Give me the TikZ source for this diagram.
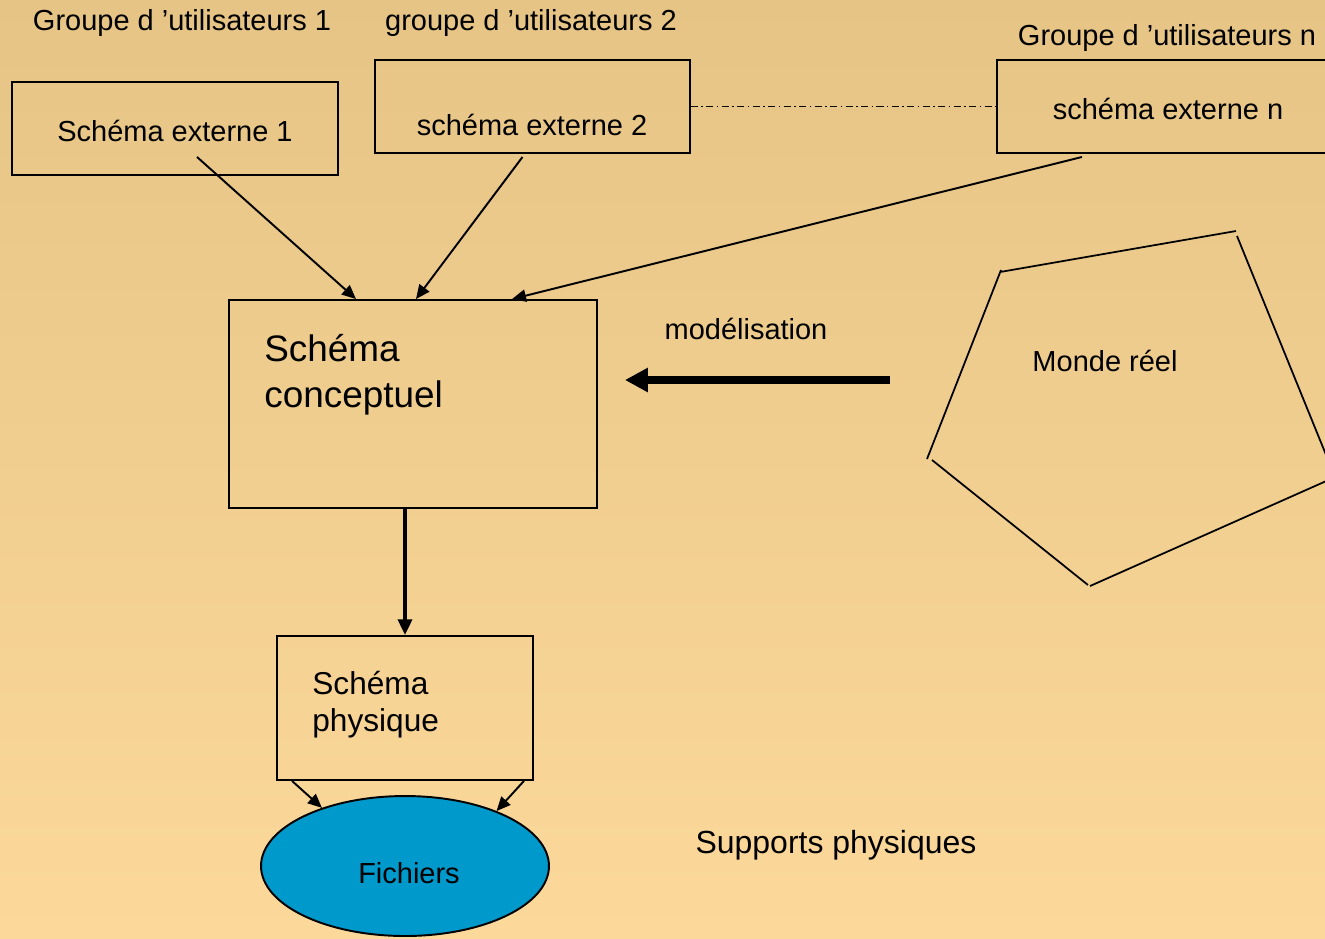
\documentclass[tikz,border=0pt]{standalone}
\usepackage{fontspec}
\setmainfont{Liberation Sans}
\usepackage{tikz}
\usetikzlibrary{arrows.meta,positioning,calc,shapes.geometric}
\definecolor{fondhaut}{RGB}{229,196,134}
\definecolor{fondbas}{RGB}{252,217,155}
\definecolor{fichierbleu}{RGB}{0,153,204}
\tikzset{
  schemabox/.style={draw,line width=1.1pt,inner sep=0pt},
  txt/.style={font=\fontsize{16.5}{20}\selectfont,inner sep=0pt},
  fleche/.style={-{Triangle[length=8pt,width=7pt]},line width=1.1pt},
}

\begin{document}
\begin{tikzpicture}[x=0.02cm,y=-0.02cm]
\shade[top color=fondhaut,bottom color=fondbas] (0,0) rectangle (1325,938);
\useasboundingbox (0,0) rectangle (1325,938);
% schemas externes
\node[schemabox,minimum width=6.52cm,minimum height=1.86cm] (ext1) at (175,128.5) {};
\node[schemabox,minimum width=6.3cm,minimum height=1.86cm] (ext2) at (532.5,106.5) {};
\node[schemabox,minimum width=6.96cm,minimum height=1.86cm] (extn) at (1171,106.5) {};
\node[txt] (ext1txt) at (175,131) {Schéma externe 1};
\node[txt] (ext2txt) at (532,125) {schéma externe 2};
\node[txt] (extntxt) at (1168,109) {schéma externe n};
\node[txt] (grp1) at (182,23) {Groupe d 'utilisateurs 1};
\node[txt] (grp2) at (531,23) {groupe d 'utilisateurs 2};
\node[txt] (grpn) at (1167,38) {Groupe d 'utilisateurs n};
\draw[line width=0.9pt,dash pattern=on 4pt off 2pt on 0.8pt off 2pt] (ext2.east) -- (extn.west);
% schema conceptuel
\node[schemabox,minimum width=7.36cm,minimum height=4.16cm] (concept) at (413,404) {};
\node[anchor=north west,align=left,inner sep=0pt,font=\fontsize{21}{26}\selectfont] (concepttxt) at (264,334) {Schéma\\conceptuel};
\draw[fleche] ($(ext1.south)+(22,-19)$) -- ($(concept.north)+(-57,0)$);
\draw[fleche] ($(ext2.south)+(-10,3)$) -- ($(concept.north)+(3,0)$);
\draw[fleche] ($(extn.south)+(-89,3)$) -- ($(concept.north)+(99,0)$);
% monde reel
\draw[line width=1pt] (1000,272) -- (1236,231) (1237,236) -- (1333,472)
  (1333,478) -- (1090,586) (1088,585) -- (932,460) (927,459) -- (1001,270);
\node[txt] (monde) at (1105,361) {Monde réel};
\node[txt] (modl) at (746,329) {modélisation};
\coordinate (mondebout) at (890,380);
\draw[line width=4pt,-{Triangle[length=13pt,width=13pt]}] (mondebout) -- ($(concept.east)+(27,-24)$);
% schema physique
\node[schemabox,minimum width=5.12cm,minimum height=2.88cm] (phys) at (405,708) {};
\node[anchor=north west,align=left,inner sep=0pt,font=\fontsize{18}{21}\selectfont] (phystxt) at (312,671) {Schéma\\physique};
\draw[line width=2pt,-{Triangle[length=9pt,width=8pt]}] (concept.south -| phys.north) -- (phys.north);
\node[draw,ellipse,line width=1.1pt,fill=fichierbleu,minimum width=5.76cm,minimum height=2.8cm,inner sep=0pt] (fich) at (405,866) {};
\node[txt] (fichtxt) at (409,873) {Fichiers};
\draw[fleche] ($(phys.south west)+(16,0)$) -- (fich.145);
\draw[fleche] ($(phys.south east)+(-10,0)$) -- (fich.31);
\node[font=\fontsize{18.2}{22}\selectfont,inner sep=0pt] (supports) at (836,845) {Supports physiques};
\end{tikzpicture}
\end{document}
